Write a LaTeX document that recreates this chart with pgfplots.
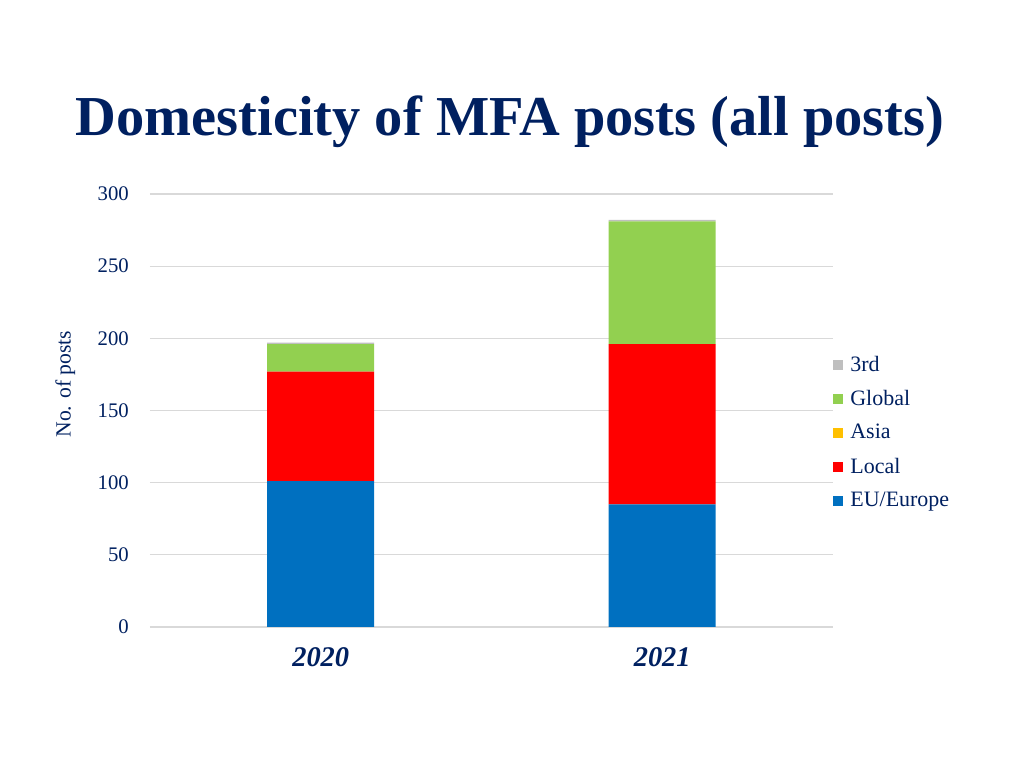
\documentclass[border=0pt]{standalone}
\usepackage{pgfplots}
\pgfplotsset{compat=1.18}
\usepackage{fontspec}
\setmainfont{Liberation Serif}
\definecolor{navy}{HTML}{002060}
\definecolor{cEU}{HTML}{0070C0}
\definecolor{cLocal}{HTML}{FF0000}
\definecolor{cAsia}{HTML}{FFC000}
\definecolor{cGlobal}{HTML}{92D050}
\definecolor{cThird}{HTML}{BFBFBF}
\definecolor{gridc}{HTML}{D9D9D9}
\begin{document}
\begin{tikzpicture}
\path[use as bounding box] (0cm,0cm) rectangle (20.48cm,15.36cm);
\node[anchor=base,text=navy,font=\fontsize{32.1}{36}\selectfont\bfseries,inner sep=0] at (10.2cm,12.64cm) {Domesticity of MFA posts (all posts)};
\begin{axis}[
  at={(3cm,2.82cm)}, anchor=south west,
  scale only axis, width=13.66cm, height=8.66cm,
  ybar stacked, bar width=2.14cm,
  xmin=-0.5, xmax=1.5, ymin=0, ymax=300,
  xtick={0,1}, xticklabels={2020,2021},
  ytick={0,50,100,150,200,250,300},
  axis line style={draw=none},
  major tick length=0,
  ymajorgrids, grid style={gridc, line width=0.6pt},
  xticklabel style={font=\fontsize{16.2}{18}\selectfont\bfseries\itshape, text=navy, yshift=-8pt},
  yticklabel style={font=\fontsize{11.8}{14}\selectfont, text=navy, xshift=-8.5pt},
  /pgf/number format/assume math mode=true,
  ylabel={No. of posts},
  ylabel style={font=\fontsize{12.3}{14}\selectfont, text=navy, at={(rel axis cs:-0.124,0.561)}, anchor=center, rotate=0},
  reverse legend,
  legend style={at={(rel axis cs:1.0,0.635)}, anchor=north west, draw=none, fill=none,
    font=\fontsize{12.5}{14}\selectfont, text=navy, row sep=5.3pt, inner sep=0pt},
  legend cell align=left,
  legend image code/.code={\fill[#1] (0.0cm,-0.1cm) rectangle (0.2cm,0.1cm); \path (0.27cm,0);},
]
\addplot[fill=cEU, draw=none] coordinates {(0,101) (1,85)};
\addplot[fill=cLocal, draw=none] coordinates {(0,76) (1,111)};
\addplot[fill=cAsia, draw=none] coordinates {(0,0) (1,0)};
\addplot[fill=cGlobal, draw=none] coordinates {(0,19) (1,85)};
\addplot[fill=cThird, draw=none] coordinates {(0,1) (1,1)};
\legend{EU/Europe,Local,Asia,Global,3rd}
\end{axis}
\end{tikzpicture}
\end{document}
